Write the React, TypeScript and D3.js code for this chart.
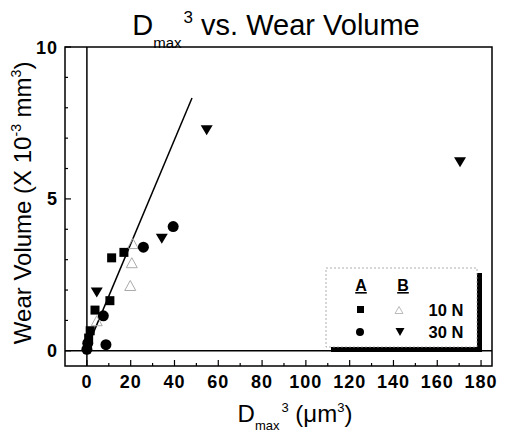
import React from "react";
import * as d3 from "d3";

// ---- data ----
const a10X = [11.3, 16.9, 10.5, 3.7, 1.5, 0.8, 0.3];
const a10Y = [3.06, 3.24, 1.65, 1.34, 0.66, 0.42, 0.18];
const a30X = [39.4, 25.8, 7.5, 8.7, 0.4, 0.0];
const a30Y = [4.09, 3.41, 1.15, 0.2, 0.25, 0.05];
const b10X = [21.0, 20.5, 19.8, 4.5];
const b10Y = [3.53, 2.9, 2.15, 0.99];
const b30X = [54.7, 170.4, 34.2, 4.5];
const b30Y = [7.26, 6.21, 3.69, 1.92];
const fitX = [0.5, 48];
const fitY = [0.17, 8.32];
const xTickLabels = [0, 20, 40, 60, 80, 100, 120, 140, 160, 180];
const xMinorTicks = d3.range(0, 181, 10);
const yTickLabels = [0, 5, 10];
const yMinorTicks = d3.range(0, 11, 1);

const W = 510;
const H = 433;
const FONT = "'Liberation Sans', Arial, Helvetica, sans-serif";

export default function App() {
  const x = d3.scaleLinear().domain([-10, 185]).range([65, 492]);
  const y = d3.scaleLinear().domain([-0.5, 10]).range([366, 47]);
  const x0 = x(-10), x1 = x(185), y0 = y(-0.5), y1 = y(10);

  const line = d3
    .line<number>()
    .x((d) => x(fitX[d]))
    .y((d) => y(fitY[d]));

  const sq = 9;
  const triUp = (cx: number, cy: number, w: number, h: number) =>
    `M${cx - w / 2},${cy + h / 2}L${cx + w / 2},${cy + h / 2}L${cx},${cy - h / 2}Z`;
  const triDown = (cx: number, cy: number, w: number, h: number) =>
    `M${cx - w / 2},${cy - h / 2}L${cx + w / 2},${cy - h / 2}L${cx},${cy + h / 2}Z`;

  // legend
  const lg = { x: 326, y: 268, w: 151, h: 79 };

  return (
    <svg
      width={W}
      height={H}
      style={{ position: "absolute", left: 0, top: 0, background: "#fff" }}
      fontFamily={FONT}
    >
      <rect width={W} height={H} fill="#fff" />
      {/* title */}
      <text x={276} y={35} fontSize={29} textAnchor="middle" fill="#000">
        D
        <tspan fontSize={15} dy={13}>max</tspan>
        <tspan fontSize={17} dy={-25} dx={2}>3</tspan>
        <tspan fontSize={29} dy={12}> vs. Wear Volume</tspan>
      </text>

      {/* frame */}
      <rect x={x0} y={y1} width={x1 - x0} height={y0 - y1} fill="none" stroke="#000" strokeWidth={1.5} />
      {/* zero lines */}
      <line x1={x(0)} x2={x(0)} y1={y1} y2={y0} stroke="#000" strokeWidth={1.5} />
      <line x1={x0} x2={x1} y1={y(0)} y2={y(0)} stroke="#000" strokeWidth={1.5} />

      {/* x ticks */}
      {xMinorTicks.map((t) => (
        <line
          key={"xt" + t}
          x1={x(t)}
          x2={x(t)}
          y1={y0}
          y2={y0 - (t % 20 === 0 ? 6 : 3)}
          stroke="#000"
          strokeWidth={1.2}
        />
      ))}
      {xTickLabels.map((t) => (
        <text key={"xl" + t} x={x(t)} y={388} fontSize={18} fontWeight="bold" letterSpacing={1} textAnchor="middle" fill="#000">
          {t}
        </text>
      ))}
      {/* y ticks */}
      {yMinorTicks.map((t) => (
        <line
          key={"yt" + t}
          x1={x0}
          x2={x0 + (t % 5 === 0 ? 6 : 3)}
          y1={y(t)}
          y2={y(t)}
          stroke="#000"
          strokeWidth={1.2}
        />
      ))}
      {yTickLabels.map((t) => (
        <text key={"yl" + t} x={58} y={y(t) + 6.5} fontSize={18} fontWeight="bold" letterSpacing={1} textAnchor="end" fill="#000">
          {t}
        </text>
      ))}

      {/* axis titles */}
      <text x={295} y={422} fontSize={24} textAnchor="middle" fill="#000">
        D
        <tspan fontSize={13} dy={8}>max</tspan>
        <tspan fontSize={13} dy={-18} dx={2}>3</tspan>
        <tspan fontSize={24} dy={10}> (μm</tspan>
        <tspan fontSize={13} dy={-10}>3</tspan>
        <tspan fontSize={24} dy={10}>)</tspan>
      </text>
      <text
        transform={`translate(31,${(y1 + y(0)) / 2 + 4}) rotate(-90)`}
        fontSize={24}
        textAnchor="middle"
        fill="#000"
      >
        Wear Volume (X 10
        <tspan fontSize={14} dy={-10}>-3</tspan>
        <tspan fontSize={24} dy={10}> mm</tspan>
        <tspan fontSize={14} dy={-10}>3</tspan>
        <tspan fontSize={24} dy={10}>)</tspan>
      </text>

      {/* fit line */}
      <path d={line([0, 1]) || ""} fill="none" stroke="#000" strokeWidth={1.5} />

      {/* B 10N open triangles */}
      {b10X.map((v, i) => (
        <path key={"b10" + i} d={triUp(x(v), y(b10Y[i]), 11, 10)} fill="none" stroke="#aaa" strokeWidth={1} />
      ))}
      {/* A 10N squares */}
      {a10X.map((v, i) => (
        <rect key={"a10" + i} x={x(v) - sq / 2} y={y(a10Y[i]) - sq / 2} width={sq} height={sq} fill="#000" />
      ))}
      {/* A 30N circles */}
      {a30X.map((v, i) => (
        <circle key={"a30" + i} cx={x(v)} cy={y(a30Y[i])} r={5.5} fill="#000" />
      ))}
      {/* B 30N down triangles */}
      {b30X.map((v, i) => (
        <path key={"b30" + i} d={triDown(x(v), y(b30Y[i]), 12, 10)} fill="#000" />
      ))}

      {/* legend */}
      <rect x={lg.x + 5} y={lg.y + 5} width={lg.w} height={lg.h} fill="#000" />
      <rect x={lg.x} y={lg.y} width={lg.w} height={lg.h} fill="#fff" stroke="#999" strokeWidth={0.8} strokeDasharray="2,2" />
      <text x={361} y={291} fontSize={16} fontWeight="bold" textAnchor="middle" textDecoration="underline">A</text>
      <text x={403} y={291} fontSize={16} fontWeight="bold" textAnchor="middle" textDecoration="underline">B</text>
      <rect x={357} y={306} width={7} height={7} fill="#000" />
      <path d={triUp(399, 310, 8, 7)} fill="none" stroke="#bbb" strokeWidth={1} />
      <text x={446} y={316} fontSize={16.5} fontWeight="bold" textAnchor="middle">10 N</text>
      <circle cx={360} cy={332} r={4} fill="#000" />
      <path d={triDown(400, 332, 9, 8)} fill="#000" />
      <text x={446} y={338} fontSize={16.5} fontWeight="bold" textAnchor="middle">30 N</text>
    </svg>
  );
}
